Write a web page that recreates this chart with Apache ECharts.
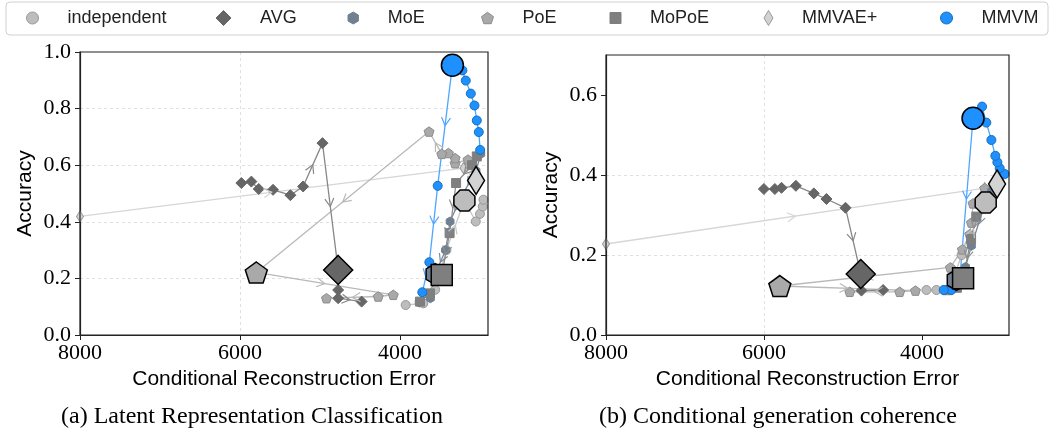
<!DOCTYPE html>
<html>
<head>
<meta charset="utf-8">
<script src="https://cdn.jsdelivr.net/npm/echarts@6/dist/echarts.min.js"></script>
<style>
html, body { margin: 0; padding: 0; background: #fff; }
#main { width: 1050px; height: 439px; }
</style>
</head>
<body>
<div id="main"></div>
<script>
// (a) Latent Representation Classification -- trajectories [error, accuracy]
var indepA = [[3929, 0.106], [3708, 0.112], [3560, 0.16], [3420, 0.30], [3195, 0.475], [3053, 0.401], [3000, 0.428], [2965, 0.454], [2957, 0.478]];
var avgA = [[5983, 0.537], [5858, 0.542], [5766, 0.516], [5587, 0.513], [5370, 0.494], [5211, 0.525], [4969, 0.678], [4773, 0.230], [4773, 0.159], [4773, 0.130], [4480, 0.118]];
var moeA = [[2990, 0.640], [3050, 0.580], [3250, 0.480], [3374, 0.401], [3430, 0.300], [3560, 0.215], [3620, 0.130], [3760, 0.115]];
var poeA = [[3150, 0.620], [3311, 0.607], [3311, 0.625], [3395, 0.643], [3478, 0.640], [3637, 0.719], [5796, 0.221], [4084, 0.142], [4272, 0.136], [4919, 0.130]];
var mopoeA = [[3040, 0.631], [3100, 0.600], [3299, 0.537], [3380, 0.360], [3478, 0.212], [3625, 0.147], [3750, 0.118]];
var mmvaeA = [[8000, 0.419], [3207, 0.590], [3049, 0.546]];
var mmvmA = [[2998, 0.654], [3015, 0.717], [3040, 0.758], [3069, 0.811], [3115, 0.853], [3178, 0.899], [3220, 0.935], [3345, 0.953], [3529, 0.527], [3633, 0.257], [3721, 0.151]];
// highlighted point of every method
var starA = {
    'independent': [3195, 0.475], 'AVG': [4773, 0.230], 'MoE': [3560, 0.215], 'PoE': [5796, 0.221],
    'MoPoE': [3478, 0.212], 'MMVAE+': [3049, 0.546], 'MMVM': [3345, 0.953]
};

// (b) Conditional generation coherence
var indepB = [[3945, 0.1125], [3819, 0.1125], [3650, 0.115], [3500, 0.200], [3195, 0.331], [3100, 0.360], [3020, 0.385]];
var avgB = [[6002, 0.365], [5863, 0.365], [5779, 0.368], [5597, 0.373], [5370, 0.354], [5210, 0.340], [4969, 0.318], [4776, 0.1525], [4767, 0.111], [4493, 0.1125]];
var moeB = [[3120, 0.360], [3200, 0.330], [3376, 0.223], [3450, 0.170], [3566, 0.1375], [3700, 0.112]];
var poeB = [[3208, 0.367], [3355, 0.329], [3376, 0.281], [3397, 0.252], [3490, 0.214], [3642, 0.169], [5800, 0.1225], [4084, 0.111], [4283, 0.108], [4915, 0.108]];
var mopoeB = [[3150, 0.345], [3313, 0.296], [3380, 0.240], [3481, 0.142], [3560, 0.118], [3680, 0.112]];
var mmvaeB = [[8000, 0.2275], [3207, 0.367], [3051, 0.3775]];
var mmvmB = [[2955, 0.4025], [3018, 0.417], [3047, 0.432], [3073, 0.448], [3123, 0.4875], [3187, 0.531], [3241, 0.571], [3355, 0.542], [3524, 0.1375], [3629, 0.1125], [3726, 0.1125]];
var starB = {
    'independent': [3195, 0.331], 'AVG': [4776, 0.1525], 'MoE': [3566, 0.1375], 'PoE': [5800, 0.1225],
    'MoPoE': [3481, 0.142], 'MMVAE+': [3051, 0.3775], 'MMVM': [3355, 0.542]
};

var methods = ['independent', 'AVG', 'MoE', 'PoE', 'MoPoE', 'MMVAE+', 'MMVM'];
var xTicks = [8000, 6000, 4000];
var yTicksA = [0, 0.2, 0.4, 0.6, 0.8, 1.0];
var yTicksB = [0, 0.2, 0.4, 0.6];
var captions = ['(a) Latent Representation Classification', '(b) Conditional generation coherence'];

var PENTAGON = 'path://M0,-10L9.51,-3.09L5.88,8.09L-5.88,8.09L-9.51,-3.09Z';
var HEXAGON = 'path://M0,-10L8.66,-5L8.66,5L0,10L-8.66,5L-8.66,-5Z';
var OCTAGON = 'path://M3.83,-9.24L9.24,-3.83L9.24,3.83L3.83,9.24L-3.83,9.24L-9.24,3.83L-9.24,-3.83L-3.83,-9.24Z';

// look of each method
var look = {
    'independent': { sym: 'circle', big: OCTAGON, bigSize: 21, size: 9, fill: '#bdbdbd', edge: '#999', line: '#c6c6c6', icon: 'circle', iw: 12, ih: 12, cx: 32 },
    'AVG': { sym: 'diamond', big: 'diamond', bigSize: 29, size: 11, fill: '#666', edge: '#666', line: '#888', icon: 'diamond', iw: 15, ih: 15, cx: 223 },
    'MoE': { sym: HEXAGON, big: HEXAGON, bigSize: 21, size: 9, fill: '#708090', edge: '#708090', line: '#7d8997', icon: HEXAGON, iw: 11, ih: 12, cx: 353 },
    'PoE': { sym: PENTAGON, big: PENTAGON, bigSize: 22, size: 10, fill: '#a9a9a9', edge: '#8c8c8c', line: '#b9b9b9', icon: PENTAGON, iw: 12, ih: 12, cx: 487 },
    'MoPoE': { sym: 'rect', big: 'rect', bigSize: 21, size: 9, fill: '#7f7f7f', edge: '#7f7f7f', line: '#8d8d8d', icon: 'rect', iw: 11, ih: 11, cx: 615 },
    'MMVAE+': { sym: 'diamond', big: 'diamond', bigSize: [17, 28], size: [7, 11], fill: '#d3d3d3', edge: '#999', line: '#d6d6d6', icon: 'diamond', iw: 9, ih: 15, cx: 768 },
    'MMVM': { sym: 'circle', big: 'circle', bigSize: 22, size: 9, fill: '#1e90ff', edge: '#1670b8', line: '#4ea6ff', icon: 'circle', iw: 12, ih: 12, cx: 946 }
};

var panels = [
    { traj: { 'independent': indepA, 'AVG': avgA, 'MoE': moeA, 'PoE': poeA, 'MoPoE': mopoeA, 'MMVAE+': mmvaeA, 'MMVM': mmvmA }, star: starA, ymax: 1.0, yTicks: yTicksA },
    { traj: { 'independent': indepB, 'AVG': avgB, 'MoE': moeB, 'PoE': poeB, 'MoPoE': mopoeB, 'MMVAE+': mmvaeB, 'MMVM': mmvmB }, star: starB, ymax: 0.7, yTicks: yTicksB }
];

function pairs(pts) {
    var out = [];
    for (var i = 0; i < pts.length - 1; i++) {
        out.push([pts[i][0], pts[i][1], pts[i + 1][0], pts[i + 1][1]]);
    }
    return out;
}

// open arrow head at the middle of each segment
function arrowRenderer(color) {
    return function (params, api) {
        var a = api.coord([api.value(0), api.value(1)]);
        var b = api.coord([api.value(2), api.value(3)]);
        var dx = b[0] - a[0], dy = b[1] - a[1];
        var len = Math.sqrt(dx * dx + dy * dy);
        if (len < 22) return null;
        var ux = dx / len, uy = dy / len;
        var mx = (a[0] + b[0]) / 2, my = (a[1] + b[1]) / 2;
        var L = 8, w = 4.5;
        return {
            type: 'polyline',
            shape: { points: [[mx - ux * L - uy * w, my - uy * L + ux * w], [mx, my], [mx - ux * L + uy * w, my - uy * L - ux * w]] },
            style: { stroke: color, lineWidth: 1.2, fill: null }
        };
    };
}

var serifFont = 'Liberation Serif';
var sansFont = 'Liberation Sans';

var grids = [
    { left: 80, right: 562, top: 52, bottom: 104 },
    { left: 606, right: 41, top: 55, bottom: 104 }
];
grids.forEach(function (g) {
    g.show = true;
    g.borderColor = '#222';
    g.borderWidth = 1.2;
    g.containLabel = false;
    g.z = 4;
});

var gridLine = { show: true, showMinLine: false, showMaxLine: false, lineStyle: { color: '#d9d9d9', type: [3, 3], width: 0.8 } };

var xAxes = [], yAxes = [];
panels.forEach(function (p, k) {
    xAxes.push({
        type: 'value', gridIndex: k, inverse: true, min: 2900, max: 8000, splitNumber: 3,
        name: 'Conditional Reconstruction Error', nameLocation: 'middle', nameGap: 33,
        nameTextStyle: { fontFamily: sansFont, fontSize: 21, color: '#000' },
        axisLine: { show: true, lineStyle: { color: '#222', width: 1.2 } },
        axisTick: { show: true, length: 5, customValues: xTicks, lineStyle: { color: '#222' } },
        axisLabel: {
            fontFamily: serifFont, fontSize: 22, color: '#000', margin: 7, customValues: xTicks,
            formatter: function (v) { return xTicks.indexOf(v) >= 0 ? String(v) : ''; }
        },
        splitLine: gridLine
    });
    yAxes.push({
        type: 'value', gridIndex: k, min: 0, max: p.ymax, interval: 0.2,
        name: 'Accuracy', nameLocation: 'middle', nameRotate: 90, nameGap: 44,
        nameTextStyle: { fontFamily: sansFont, fontSize: 21, color: '#000' },
        axisLine: { show: true, lineStyle: { color: '#222', width: 1.2 } },
        axisTick: { show: true, length: 5, customValues: p.yTicks, lineStyle: { color: '#222' } },
        axisLabel: {
            fontFamily: serifFont, fontSize: 22, color: '#000', margin: 9, customValues: p.yTicks,
            formatter: function (v) {
                return Math.abs(v * 5 - Math.round(v * 5)) < 1e-6 ? v.toFixed(1) : '';
            }
        },
        splitLine: gridLine
    });
});

var drawOrder = ['MMVAE+', 'independent', 'PoE', 'AVG', 'MoE', 'MoPoE', 'MMVM'];
var series = [];
panels.forEach(function (p, k) {
    drawOrder.forEach(function (m) {
        var s = look[m];
        series.push({
            name: m, type: 'line', xAxisIndex: k, yAxisIndex: k,
            data: p.traj[m], symbol: s.sym, symbolSize: s.size, symbolKeepAspect: true,
            lineStyle: { color: s.line, width: 1.3 },
            itemStyle: { color: s.fill, borderColor: s.edge, borderWidth: 1 },
            z: 2, silent: true
        });
        series.push({
            name: m, type: 'custom', xAxisIndex: k, yAxisIndex: k,
            coordinateSystem: 'cartesian2d',
            encode: { x: [0, 2], y: [1, 3] },
            data: pairs(p.traj[m]),
            renderItem: arrowRenderer(s.line),
            z: 3, silent: true
        });
    });
    drawOrder.forEach(function (m) {
        var s = look[m];
        series.push({
            name: m, type: 'scatter', xAxisIndex: k, yAxisIndex: k,
            data: [p.star[m]], symbol: s.big, symbolSize: s.bigSize, symbolKeepAspect: true,
            itemStyle: { color: s.fill, borderColor: '#000', borderWidth: 1.5, opacity: 1 },
            z: 5, silent: true
        });
    });
});

// one legend per entry so each sits where the reference puts it
var legends = methods.map(function (m) {
    var s = look[m];
    return {
        data: [{ name: m, icon: s.icon }],
        left: s.cx - s.iw / 2, top: 9, padding: 0,
        itemWidth: s.iw, itemHeight: s.ih,
        selectedMode: false,
        itemStyle: { color: s.fill, borderColor: s.edge, borderWidth: 1 },
        textStyle: { fontFamily: sansFont, fontSize: 18, color: '#222', padding: [0, 0, 0, 24] }
    };
});

var myChart = echarts.init(document.getElementById('main'), null, { renderer: 'canvas' });
var option = {
    animation: false,
    backgroundColor: '#fff',
    grid: grids,
    xAxis: xAxes,
    yAxis: yAxes,
    legend: legends,
    graphic: [
        { type: 'rect', z: -1, shape: { x: 6, y: 2, width: 1042, height: 33, r: 4 }, style: { fill: '#fff', stroke: '#d0d0d0', lineWidth: 1 } },
        { type: 'text', x: 252, y: 417, style: { text: captions[0], fontFamily: serifFont, fontSize: 24, fill: '#000', align: 'center', verticalAlign: 'middle' } },
        { type: 'text', x: 778, y: 417, style: { text: captions[1], fontFamily: serifFont, fontSize: 24, fill: '#000', align: 'center', verticalAlign: 'middle' } }
    ],
    series: series
};
myChart.setOption(option, true);
</script>
</body>
</html>
